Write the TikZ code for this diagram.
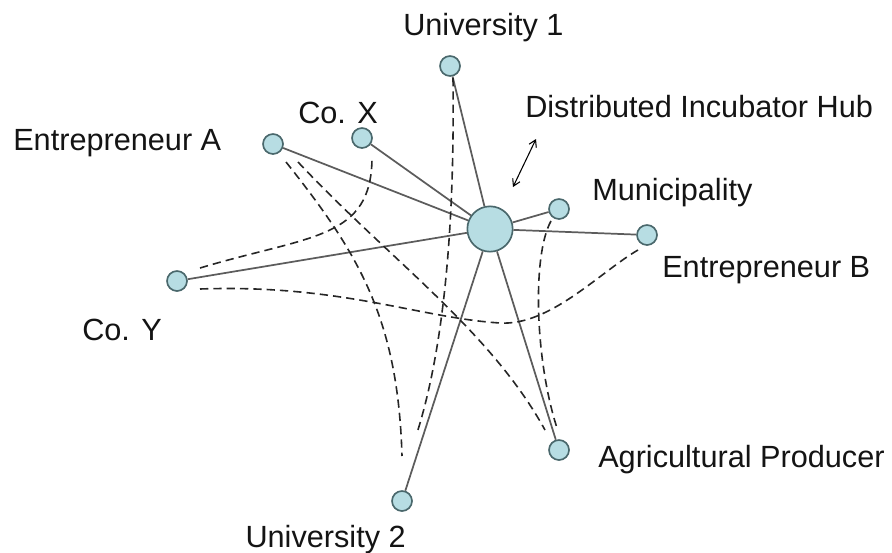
\documentclass[tikz,border=0pt]{standalone}
\usepackage{fontspec}
\setmainfont{Liberation Sans}
\usepackage{xcolor}
\usetikzlibrary{arrows.meta}

\definecolor{nodefill}{RGB}{183,221,227}
\definecolor{nodeline}{RGB}{74,104,108}
\definecolor{spokegray}{RGB}{92,92,92}

\tikzset{
  actor/.style={circle, draw=nodeline, fill=nodefill, line width=1.25pt, minimum size=15pt, inner sep=0pt},
  hubnode/.style={actor, minimum size=34pt},
  spoke/.style={draw=spokegray, line width=1.3pt},
  tie/.style={draw=black!85, line width=1.2pt, dash pattern=on 6.2pt off 3.8pt},
  lbl/.style={font=\fontsize{23}{27}\selectfont, inner sep=0pt, text=black!92},
}

\begin{document}
\begin{tikzpicture}[x=0.75pt,y=0.75pt,yscale=-1,xscale=1]
\useasboundingbox (0,0) rectangle (892,553);

%Shape: Circle
\node[hubnode] (hub) at (490,229) {};
%Shape: Circle
\node[actor] (uni1) at (450,66) {};
%Shape: Circle
\node[actor] (cox) at (362,138) {};
%Shape: Circle
\node[actor] (enta) at (273,144) {};
%Shape: Circle
\node[actor] (muni) at (559,209) {};
%Shape: Circle
\node[actor] (entb) at (647,235) {};
%Shape: Circle
\node[actor] (coy) at (177,281) {};
%Shape: Circle
\node[actor] (agri) at (559,450) {};
%Shape: Circle
\node[actor] (uni2) at (402,501) {};

%Straight Lines
\draw[spoke] (hub) -- (uni1);
\draw[spoke] (hub) -- (cox);
\draw[spoke] (hub) -- (enta);
\draw[spoke] (hub) -- (coy);
\draw[spoke] (hub) -- (muni);
\draw[spoke] (hub) -- (entb);
\draw[spoke] (hub) -- (agri);
\draw[spoke] (hub) -- (uni2);

% ends of the dashed ties
\coordinate (coyUp) at (200,268);
\coordinate (coyLow) at (200,289);
\coordinate (coxLow) at (372,157);
\coordinate (entaL) at (286,162);
\coordinate (entaR) at (298,162);
\coordinate (entbLow) at (638,250);
\coordinate (muniLow) at (551,221);
\coordinate (uni1Low) at (453,78);
\coordinate (agriUpL) at (545,430);
\coordinate (agriUpR) at (557,428);
\coordinate (uni2UpL) at (402,456);
\coordinate (uni2UpR) at (417,433);

%Curve Lines
\draw[tie] (coyUp) .. controls (310,235) and (372,240) .. (coxLow);
%Curve Lines
\draw[tie] (coyLow) .. controls (340,284) and (420,318) .. (500,323) .. controls (550,326) and (600,272) .. (entbLow);
%Curve Lines
\draw[tie] (entaL) .. controls (360,255) and (398,320) .. (uni2UpL);
%Curve Lines
\draw[tie] (entaR) .. controls (390,260) and (490,330) .. (agriUpL);
%Curve Lines
\draw[tie] (muniLow) .. controls (532,255) and (535,360) .. (agriUpR);
%Curve Lines
\draw[tie] (uni1Low) .. controls (455,250) and (440,360) .. (uni2UpR);

%Straight Lines
\coordinate (arrLow) at (513,187);
\coordinate (arrUp) at (536,139);
\draw[black, line width=0.8pt, {Straight Barb[length=5pt,width=6pt]}-{Straight Barb[length=5pt,width=6pt]}] (arrLow) -- (arrUp);

% Text Node
\node[lbl, anchor=base west] (tUni1) at (403,35) {University 1};
% Text Node
\node[lbl, anchor=base west] (tCox) at (298,123) {Co. X};
% Text Node
\node[lbl, anchor=base west] (tEnta) at (13,150) {Entrepreneur A};
% Text Node
\node[lbl, anchor=base west] (tHub) at (525,117) {Distributed Incubator Hub};
% Text Node
\node[lbl, anchor=base west] (tMuni) at (592,200) {Municipality};
% Text Node
\node[lbl, anchor=base west] (tEntb) at (662,277) {Entrepreneur B};
% Text Node
\node[lbl, anchor=base west] (tCoy) at (82,340) {Co. Y};
% Text Node
\node[lbl, anchor=base west] (tAgri) at (598,467) {Agricultural Producer};
% Text Node
\node[lbl, anchor=base east] (tUni2) at (406,547) {University 2};
\end{tikzpicture}
\end{document}
